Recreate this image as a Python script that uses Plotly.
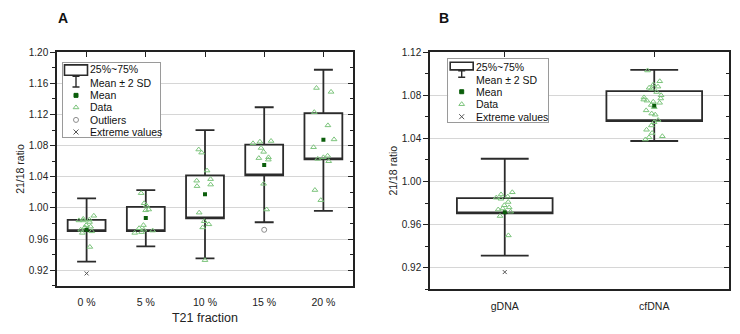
import plotly.graph_objects as go

W, H = 740, 334

# ---------------- Panel A data ----------------
cats_a = ["0 %", "5 %", "10 %", "15 %", "20 %"]
q1_a = [0.9704, 0.9704, 0.9867, 1.0419, 1.0624]
q3_a = [0.9846, 1.0013, 1.0419, 1.0812, 1.1218]
mean_a = [0.9720, 0.9870, 1.0177, 1.0553, 1.0875]
lo_a = [0.9311, 0.9507, 0.9353, 0.9817, 0.9963]   # mean - 2 SD
hi_a = [1.0122, 1.0230, 1.1000, 1.1293, 1.1774]   # mean + 2 SD

pts_0 = [0.990, 0.986, 0.985, 0.984, 0.984, 0.982, 0.978, 0.976, 0.975, 0.972, 0.970, 0.968, 0.950]
pts_5 = [1.019, 1.006, 1.003, 0.998, 0.997, 0.978, 0.974, 0.972, 0.971, 0.969, 0.968]
pts_10 = [1.075, 1.071, 1.048, 1.037, 1.035, 1.030, 1.028, 0.994, 0.983, 0.979, 0.975, 0.933]
pts_15 = [1.086, 1.085, 1.083, 1.077, 1.072, 1.065, 1.064, 1.062, 1.031, 0.998]
pts_20 = [1.154, 1.149, 1.123, 1.106, 1.088, 1.078, 1.067, 1.065, 1.063, 1.060, 1.023, 1.010]

outlier_cats_a = ["15 %"]
outlier_vals_a = [0.972]
extreme_cats_a = ["0 %"]
extreme_vals_a = [0.916]

# ---------------- Panel B data ----------------
cats_b = ["gDNA", "cfDNA"]
q1_b = [0.9705, 1.0561]
q3_b = [0.9846, 1.0839]
mean_b = [0.9715, 1.0703]
lo_b = [0.9313, 1.0376]
hi_b = [1.0211, 1.1036]

pts_g = [0.990, 0.988, 0.986, 0.985, 0.984, 0.981, 0.978, 0.976, 0.975, 0.974, 0.972, 0.968, 0.950]
pts_cf = [1.103, 1.093, 1.090, 1.088, 1.087, 1.086, 1.083, 1.080, 1.078, 1.077, 1.076, 1.075,
          1.074, 1.073, 1.071, 1.069, 1.066, 1.063, 1.062, 1.057, 1.055, 1.052, 1.048, 1.045,
          1.042, 1.041, 1.039]

extreme_cats_b = ["gDNA"]
extreme_vals_b = [0.916]

yticks_a = [0.92, 0.96, 1.00, 1.04, 1.08, 1.12, 1.16, 1.20]
yticks_b = [0.92, 0.96, 1.00, 1.04, 1.08, 1.12]

legend_a = ["25%~75%", "Mean \u00b1 2 SD", "Mean", "Data", "Outliers", "Extreme values"]
legend_b = ["25%~75%", "Mean \u00b1 2 SD", "Mean", "Data", "Extreme values"]

# ---------------- styles ----------------
FONT = "Liberation Sans, Arial, sans-serif"
BOXC = "#2b2b2b"
DATAC = "#7cc47c"
MEANC = "#0b5e0b"
GREY = "#8c8c8c"
GRID = "#d6d6d6"


def pxx(x):
    return x / W


def pxy(y):
    return 1 - y / H


A_L, A_R, A_T, A_B = 57, 353, 47, 285
B_L, B_R, B_T, B_B = 430, 729, 47, 288.5
dom_a_x = [pxx(A_L), pxx(A_R)]
dom_a_y = [pxy(A_B), pxy(A_T)]
dom_b_x = [pxx(B_L), pxx(B_R)]
dom_b_y = [pxy(B_B), pxy(B_T)]

fig = go.Figure()


def add_panel(xa, ya, cats, q1, q3, mean, lo, hi, pts_list, jitter):
    fig.add_trace(go.Box(
        x=cats, q1=q1, median=q1, q3=q3, lowerfence=lo, upperfence=hi,
        width=0.64, whiskerwidth=0.5, fillcolor="rgba(0,0,0,0)",
        line=dict(color=BOXC, width=1.8), boxpoints=False,
        xaxis=xa, yaxis=ya, showlegend=False, hoverinfo="skip"))
    xs, ys = [], []
    for c, p in zip(cats, pts_list):
        xs += [c] * len(p)
        ys += p
    fig.add_trace(go.Box(
        x=xs, y=ys, width=0.64, boxpoints="all", jitter=jitter, pointpos=0,
        fillcolor="rgba(0,0,0,0)", line=dict(width=0, color="rgba(0,0,0,0)"),
        marker=dict(symbol="triangle-up-open", size=5, color=DATAC,
                    line=dict(width=1, color=DATAC)),
        xaxis=xa, yaxis=ya, showlegend=False, hoverinfo="skip"))
    fig.add_trace(go.Scatter(
        x=cats, y=mean, mode="markers",
        marker=dict(symbol="square", size=4, color=MEANC),
        xaxis=xa, yaxis=ya, showlegend=False))


add_panel("x", "y", cats_a, q1_a, q3_a, mean_a, lo_a, hi_a,
          [pts_0, pts_5, pts_10, pts_15, pts_20], 0.6)
fig.add_trace(go.Scatter(x=outlier_cats_a, y=outlier_vals_a, mode="markers",
                         marker=dict(symbol="circle-open", size=5, color=GREY, line=dict(width=1)),
                         xaxis="x", yaxis="y", showlegend=False))
fig.add_trace(go.Scatter(x=extreme_cats_a, y=extreme_vals_a, mode="markers",
                         marker=dict(symbol="x-thin-open", size=4, color="#555", line=dict(width=1, color="#555")),
                         xaxis="x", yaxis="y", showlegend=False))

add_panel("x2", "y2", cats_b, q1_b, q3_b, mean_b, lo_b, hi_b, [pts_g, pts_cf], 0.25)
fig.add_trace(go.Scatter(x=extreme_cats_b, y=extreme_vals_b, mode="markers",
                         marker=dict(symbol="x-thin-open", size=4, color="#555", line=dict(width=1, color="#555")),
                         xaxis="x2", yaxis="y2", showlegend=False))

# dummy traces for overlay axes (top / right inward ticks)
for xa, ya in [("x3", "y"), ("x", "y3"), ("x4", "y2"), ("x2", "y4")]:
    fig.add_trace(go.Scatter(x=[None], y=[None], xaxis=xa, yaxis=ya, showlegend=False, hoverinfo="skip"))

# ---------------- axes ----------------
tickfont = dict(family=FONT, size=10, color="#222")
catfont = dict(family=FONT, size=10.5, color="#222")


def main_x(dom, ncat, anchor, title=None):
    d = dict(domain=dom, anchor=anchor, range=[-0.5, ncat - 0.5], showline=True, mirror=True,
             linecolor="#222", linewidth=1.5, ticks="", showgrid=False, zeroline=False,
             tickfont=catfont, ticklabelstandoff=6)
    if title:
        d["title"] = dict(text=title, font=dict(family=FONT, size=12.5, color="#222"), standoff=6)
    return d


def main_y(dom, rng, ticks, anchor):
    return dict(domain=dom, anchor=anchor, range=rng, showline=True, mirror=True,
                linecolor="#222", linewidth=1.5, ticks="outside", ticklen=5, tickwidth=1,
                tickcolor="#222", tickvals=ticks, tickformat=".2f", tickfont=tickfont,
                showgrid=True, gridcolor=GRID, gridwidth=1, zeroline=False,
                minor=dict(dtick=0.02, tick0=0, ticks="outside", ticklen=3, tickcolor="#222", showgrid=False),
                title=dict(text="21/18 ratio", font=dict(family=FONT, size=10.5, color="#222"), standoff=2))


def top_x(over, anchor, ncat):
    return dict(overlaying=over, anchor=anchor, side="top", range=[-0.5, ncat - 0.5],
                tickvals=list(range(ncat)), ticks="inside", ticklen=5, tickcolor="#222",
                showticklabels=False, showgrid=False, zeroline=False, showline=False)


def right_y(over, anchor, rng, ticks):
    return dict(overlaying=over, anchor=anchor, side="right", range=rng, tickvals=ticks,
                ticks="inside", ticklen=5, tickcolor="#222", showticklabels=False, showgrid=False,
                zeroline=False, showline=False,
                minor=dict(dtick=0.02, tick0=0, ticks="inside", ticklen=3, tickcolor="#222", showgrid=False))


fig.update_layout(
    xaxis=main_x(dom_a_x, len(cats_a), "y", "T21 fraction"),
    yaxis=main_y(dom_a_y, [0.90, 1.20], yticks_a, "x"),
    xaxis2=main_x(dom_b_x, len(cats_b), "y2"),
    yaxis2=main_y(dom_b_y, [0.90, 1.12], yticks_b, "x2"),
    xaxis3=top_x("x", "y", len(cats_a)),
    yaxis3=right_y("y", "x", [0.90, 1.20], yticks_a),
    xaxis4=top_x("x2", "y2", len(cats_b)),
    yaxis4=right_y("y2", "x2", [0.90, 1.12], yticks_b),
)


# ---------------- custom legends (inset axes, pixel units) ----------------
def add_legend(xa, ya, left, top, w, h, labels, icon_x, text_x, rows, box_y, ibeam_bot):
    xn, yn = xa.replace("axis", ""), ya.replace("axis", "")
    fig.layout[xa] = dict(domain=[pxx(left), pxx(left + w)], anchor=yn, range=[0, w],
                          showline=True, mirror=True, linecolor="#9a9a9a", linewidth=1,
                          showticklabels=False, ticks="", showgrid=False, zeroline=False, fixedrange=True)
    fig.layout[ya] = dict(domain=[pxy(top + h), pxy(top)], anchor=xn, range=[h, 0],
                          showline=True, mirror=True, linecolor="#9a9a9a", linewidth=1,
                          showticklabels=False, ticks="", showgrid=False, zeroline=False, fixedrange=True)
    # white background hiding the main panel's gridlines
    fig.add_trace(go.Scatter(x=[0, w, w, 0, 0], y=[0, 0, h, h, 0], mode="lines", fill="toself",
                             fillcolor="white", line=dict(width=0, color="white"),
                             xaxis=xn, yaxis=yn, showlegend=False, hoverinfo="skip"))
    # box icon
    fig.add_shape(type="rect", xref=xn, yref=yn, x0=icon_x - 11.5, x1=icon_x + 11.5,
                  y0=box_y[0], y1=box_y[1], line=dict(color=BOXC, width=1.6), fillcolor="rgba(0,0,0,0)")
    # I-beam icon
    fig.add_shape(type="line", xref=xn, yref=yn, x0=icon_x, x1=icon_x, y0=box_y[1], y1=ibeam_bot,
                  line=dict(color=BOXC, width=1.4))
    for yy in (box_y[1] + 1, ibeam_bot):
        fig.add_shape(type="line", xref=xn, yref=yn, x0=icon_x - 3.5, x1=icon_x + 3.5, y0=yy, y1=yy,
                      line=dict(color=BOXC, width=1.4))
    sym = {"Mean": ("square", 4, MEANC), "Data": ("triangle-up-open", 5, DATAC),
           "Outliers": ("circle-open", 5, GREY), "Extreme values": ("x-thin-open", 5, "#555")}
    for lab, yy in zip(labels, rows):
        fig.add_annotation(x=text_x, y=yy, xref=xn, yref=yn, text=lab, showarrow=False,
                           xanchor="left", yanchor="middle",
                           font=dict(family=FONT, size=10.5, color="#111"))
        if lab in sym:
            s, sz, c = sym[lab]
            fig.add_trace(go.Scatter(x=[icon_x], y=[yy], mode="markers", xaxis=xn, yaxis=yn,
                                     marker=dict(symbol=s, size=sz, color=c, line=dict(width=1, color=c)),
                                     showlegend=False, hoverinfo="skip"))


add_legend("xaxis5", "yaxis5", 63, 58, 97, 75, legend_a, 13, 25,
           [6.3, 20.3, 33, 45.3, 58, 70.3], (2, 12.5), 24.5)
add_legend("xaxis6", "yaxis6", 448.3, 54, 100, 64.5, legend_b, 13.4, 26,
           [8.3, 21, 33.3, 46, 58.7], (3.3, 11), 18.5)

# panel letters
fig.add_annotation(x=pxx(63), y=pxy(12), xref="paper", yref="paper", text="<b>A</b>", showarrow=False,
                   xanchor="center", yanchor="middle", font=dict(family=FONT, size=14, color="#111"))
fig.add_annotation(x=pxx(444), y=pxy(12), xref="paper", yref="paper", text="<b>B</b>", showarrow=False,
                   xanchor="center", yanchor="middle", font=dict(family=FONT, size=14, color="#111"))

fig.update_layout(width=W, height=H, margin=dict(l=0, r=0, t=0, b=0),
                  paper_bgcolor="white", plot_bgcolor="white", showlegend=False,
                  boxmode="overlay", font=dict(family=FONT))

fig.write_html("out.html")
